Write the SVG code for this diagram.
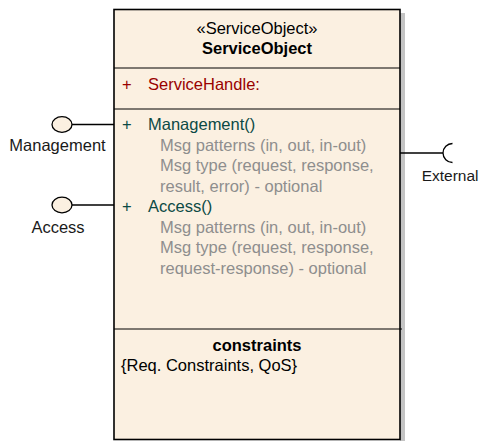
<svg xmlns="http://www.w3.org/2000/svg" width="480" height="441" viewBox="0 0 480 441">
  <style>
    text { font-family: "Liberation Sans", Arial, sans-serif; font-size: 16.5px; }
    .c { text-anchor: middle; }
    .b { font-weight: bold; }
    .ink { fill: #000000; }
    .attr { fill: #990000; }
    .op { fill: #0C4A45; }
    .note { fill: #8E8E8E; }
    .lbl { fill: #1a1a1a; }
    .wire { stroke: #000000; stroke-width: 1.3; fill: none; }
    .port { fill: #FBF0E1; stroke: #000000; stroke-width: 1.3; }
  </style>

  <rect width="480" height="441" fill="#ffffff"/>

  <!-- component: ServiceObject -->
  <g id="service-object">
    <rect x="400" y="13" width="5" height="428" fill="#C4C4C4"/>
    <rect x="114" y="9.5" width="286" height="430" fill="#FBF0E1" stroke="#000000" stroke-width="1.6"/>
    <line x1="114" y1="68" x2="400" y2="68" stroke="#000000" stroke-width="1"/>
    <line x1="114" y1="109" x2="400" y2="109" stroke="#000000" stroke-width="1"/>
    <line x1="114" y1="329" x2="402" y2="329" stroke="#000000" stroke-width="1"/>

    <text class="c ink" x="257" y="34">«ServiceObject»</text>
    <text class="c b ink" x="257" y="53.5">ServiceObject</text>

    <text class="attr" x="122" y="89.5">+</text>
    <text class="attr" x="148" y="89.5">ServiceHandle:</text>

    <text class="op" x="122" y="130">+</text>
    <text class="op" x="148" y="130">Management()</text>
    <text class="note" x="160" y="150.5">Msg patterns (in, out, in-out)</text>
    <text class="note" x="160" y="171">Msg type (request, response,</text>
    <text class="note" x="160" y="191.5">result, error) - optional</text>
    <text class="op" x="122" y="212">+</text>
    <text class="op" x="148" y="212">Access()</text>
    <text class="note" x="160" y="232.5">Msg patterns (in, out, in-out)</text>
    <text class="note" x="160" y="253">Msg type (request, response,</text>
    <text class="note" x="160" y="273.5">request-response) - optional</text>

    <text class="c b ink" x="257" y="351">constraints</text>
    <text class="ink" x="121" y="371">{Req. Constraints, QoS}</text>
  </g>

  <!-- provided interface: Management -->
  <g id="management">
    <ellipse class="port" cx="62" cy="124.5" rx="10" ry="7.8"/>
    <text class="c lbl" x="57.5" y="150.5">Management</text>
  </g>

  <!-- provided interface: Access -->
  <g id="access">
    <ellipse class="port" cx="62" cy="205" rx="10" ry="7.8"/>
    <text class="c lbl" x="58" y="233">Access</text>
  </g>

  <!-- required interface: External -->
  <g id="external">
    <path class="wire" d="M452.5 143.5 A9.5 9.5 0 0 0 452.5 162.5"/>
    <text class="lbl" x="478.5" y="180.5" text-anchor="end" style="font-size:15.5px">External</text>
  </g>

  <!-- connectors -->
  <g id="connectors">
    <line class="wire" x1="72" y1="124.5" x2="114" y2="124.5"/>
    <line class="wire" x1="72" y1="205" x2="114" y2="205"/>
    <line class="wire" x1="400" y1="153" x2="443" y2="153"/>
  </g>
</svg>
